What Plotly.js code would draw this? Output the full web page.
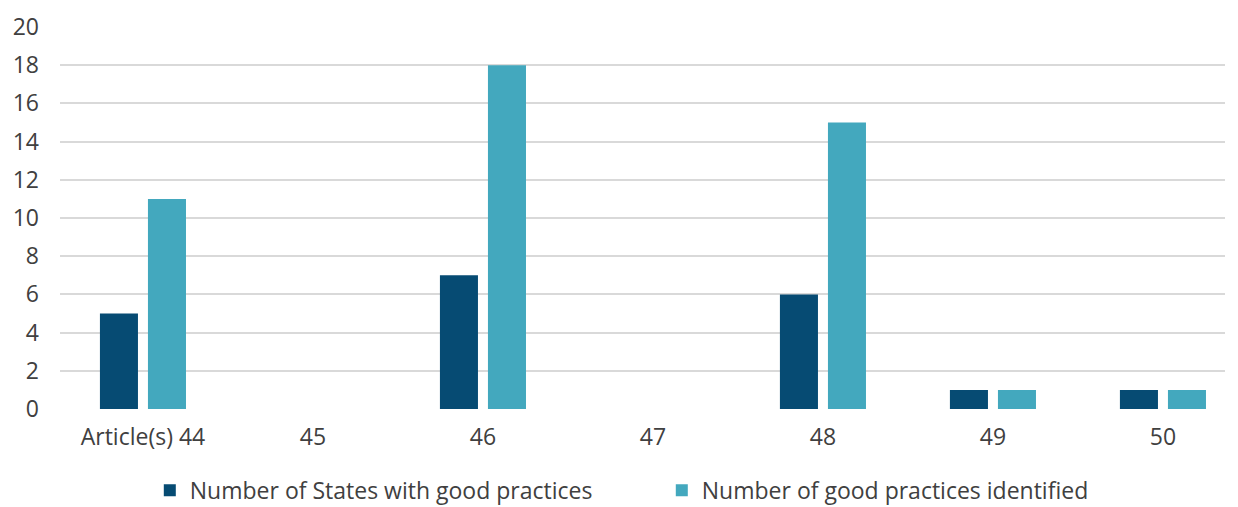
<!DOCTYPE html>
<html>
<head>
<meta charset="utf-8">
<script src="https://cdn.plot.ly/plotly-3.0.1.min.js"></script>
<style>html,body{margin:0;padding:0;background:#fff;}#chart{width:1238px;height:507px;}</style>
</head>
<body>
<div id="chart"></div>
<script>
const categories = ["Article(s) 44", "45", "46", "47", "48", "49", "50"];
const statesWithGoodPractices = [5, 0, 7, 0, 6, 1, 1];
const goodPracticesIdentified = [11, 0, 18, 0, 15, 1, 1];
const seriesNames = ["Number of States with good practices", "Number of good practices identified"];
const yTicks = [0, 2, 4, 6, 8, 10, 12, 14, 16, 18, 20];

const font = {family: "Open Sans, Noto Sans, sans-serif", size: 23, color: "#404040"};

const traces = [
  {type: "bar", x: categories, y: statesWithGoodPractices, name: seriesNames[0], marker: {color: "#064B73"}},
  {type: "bar", x: categories, y: goodPracticesIdentified, name: seriesNames[1], marker: {color: "#43A8BE"}}
];

const layout = {
  width: 1238, height: 507,
  margin: {l: 60, r: 13, t: 27, b: 98, autoexpand: false},
  paper_bgcolor: "#fff", plot_bgcolor: "#fff",
  font: font,
  barmode: "group",
  bargap: 0.435,
  bargroupgap: 0.208,
  xaxis: {type: "category", range: [-0.488, 6.365], showgrid: false, zeroline: false, showline: false, ticks: "", tickfont: font, ticklabelstandoff: 12, automargin: false},
  yaxis: {range: [0, 20], tickvals: yTicks, showgrid: true, gridcolor: "#d9d9d9", gridwidth: 2, zeroline: false, showline: false, ticks: "", tickfont: font, ticklabelstandoff: 20, automargin: false},
  legend: {orientation: "h", xref: "container", yref: "container", x: 0.121, xanchor: "left", y: 0.033, yanchor: "middle", font: font, itemwidth: 30, entrywidth: 467, entrywidthmode: "pixels"},
  showlegend: true
};

Plotly.newPlot("chart", traces, layout, {displayModeBar: false, staticPlot: true});
</script>
</body>
</html>
